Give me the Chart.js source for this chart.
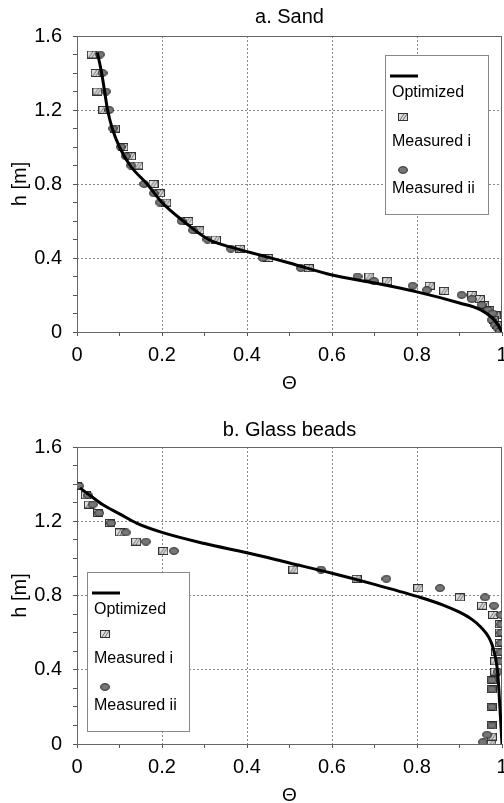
<!DOCTYPE html>
<html>
<head>
<meta charset="utf-8">
<script src="https://cdn.jsdelivr.net/npm/chart.js@4.4.0/dist/chart.umd.min.js"></script>
<style>
  html, body { margin: 0; padding: 0; background: #fff; overflow: hidden; }
  #top { position: absolute; left: 0; top: 0; width: 504px; height: 400px; }
  #bottom { position: absolute; left: 0; top: 400px; width: 504px; height: 420px; }
</style>
</head>
<body>
<div id="top"><canvas id="sand"></canvas></div>
<div id="bottom"><canvas id="beads"></canvas></div>
<script>
// --- a. Sand ---
const sandOptTheta = [0.048, 0.058, 0.065, 0.072, 0.083, 0.1, 0.125, 0.165, 0.2, 0.25, 0.31, 0.36, 0.44, 0.5, 0.6, 0.7, 0.8, 0.9, 0.95, 0.975, 0.99, 1.0];
const sandOptH     = [1.51, 1.4, 1.3, 1.2, 1.1, 1.0, 0.9, 0.8, 0.7, 0.6, 0.5, 0.46, 0.41, 0.373, 0.308, 0.265, 0.217, 0.157, 0.12, 0.08, 0.04, 0];

const sandITheta = [0.035, 0.044, 0.048, 0.062, 0.089, 0.109, 0.127, 0.144, 0.18, 0.195, 0.21, 0.262, 0.288, 0.327, 0.384, 0.45, 0.546, 0.688, 0.73, 0.83, 0.864, 0.93, 0.948, 0.958, 0.97, 0.985, 0.98, 0.988, 0.995];
const sandIH     = [1.5, 1.4, 1.3, 1.2, 1.1, 1.0, 0.95, 0.9, 0.8, 0.75, 0.7, 0.6, 0.55, 0.5, 0.45, 0.4, 0.345, 0.3, 0.275, 0.25, 0.222, 0.2, 0.178, 0.146, 0.119, 0.09, 0.065, 0.038, 0.01];

const sandIITheta = [0.054, 0.06, 0.068, 0.076, 0.085, 0.103, 0.115, 0.127, 0.158, 0.181, 0.195, 0.246, 0.273, 0.307, 0.362, 0.437, 0.527, 0.66, 0.699, 0.79, 0.823, 0.905, 0.929, 0.952, 0.967, 0.978, 0.976, 0.984, 0.99, 0.995];
const sandIIH     = [1.5, 1.4, 1.3, 1.2, 1.1, 1.0, 0.95, 0.9, 0.8, 0.75, 0.7, 0.6, 0.55, 0.5, 0.45, 0.4, 0.345, 0.3, 0.275, 0.25, 0.227, 0.2, 0.178, 0.146, 0.119, 0.1, 0.065, 0.038, 0.02, 0.005];

// --- b. Glass beads ---
const beadsOptTheta = [0.007, 0.03, 0.06, 0.1, 0.14, 0.2, 0.3, 0.4, 0.5, 0.6, 0.7, 0.8, 0.86, 0.9, 0.93, 0.95, 0.97, 0.98, 0.99, 0.995, 1.0];
const beadsOptH     = [1.38, 1.34, 1.29, 1.24, 1.19, 1.14, 1.08, 1.03, 0.975, 0.92, 0.86, 0.795, 0.75, 0.71, 0.67, 0.63, 0.57, 0.51, 0.38, 0.2, 0];

const beadsITheta = [0.0, 0.021, 0.028, 0.05, 0.078, 0.101, 0.139, 0.203, 0.509, 0.658, 0.803, 0.901, 0.953, 0.979, 0.995, 0.995, 0.995, 0.986, 0.984, 0.984, 0.976, 0.976, 0.976, 0.976, 0.976, 0.975];
const beadsIH     = [1.39, 1.34, 1.29, 1.245, 1.19, 1.14, 1.09, 1.04, 0.94, 0.89, 0.84, 0.79, 0.745, 0.695, 0.645, 0.6, 0.545, 0.495, 0.445, 0.39, 0.345, 0.295, 0.2, 0.1, 0.04, 0.0];

const beadsIITheta = [0.005, 0.026, 0.037, 0.052, 0.08, 0.115, 0.162, 0.228, 0.574, 0.728, 0.854, 0.96, 0.981, 0.998, 0.998, 0.998, 0.998, 0.998, 0.995, 0.99, 0.976, 0.976, 0.976, 0.976, 0.965, 0.955];
const beadsIIH     = [1.39, 1.34, 1.29, 1.245, 1.19, 1.14, 1.09, 1.04, 0.94, 0.89, 0.84, 0.79, 0.745, 0.695, 0.645, 0.6, 0.545, 0.495, 0.445, 0.39, 0.345, 0.295, 0.2, 0.1, 0.05, 0.01];

const xTickLabels = ['0', '0.2', '0.4', '0.6', '0.8', '1'];
const yTickLabels = ['0', '0.4', '0.8', '1.2', '1.6'];

Chart.defaults.font.family = "'Liberation Sans', Arial, sans-serif";
Chart.defaults.color = '#000';

function pts(xs, ys) {
  return xs.map((x, i) => ({ x: x, y: ys[i] }));
}

// hatched square and grey dot markers
function makeSquare() {
  const c = document.createElement('canvas');
  c.width = 10; c.height = 8;
  const g = c.getContext('2d');
  g.fillStyle = '#dedede';
  g.fillRect(0.5, 0.5, 9, 7);
  g.strokeStyle = '#6a6a6a';
  g.lineWidth = 1;
  g.beginPath();
  g.moveTo(2, 7); g.lineTo(6, 1);
  g.moveTo(5, 7); g.lineTo(9, 1);
  g.stroke();
  g.strokeStyle = '#333';
  g.strokeRect(0.5, 0.5, 9, 7);
  return c;
}
function makeDot() {
  const c = document.createElement('canvas');
  c.width = 10; c.height = 8;
  const g = c.getContext('2d');
  g.beginPath();
  g.ellipse(5, 4, 4.3, 3.3, 0, 0, Math.PI * 2);
  g.fillStyle = '#767676';
  g.fill();
  g.strokeStyle = '#222';
  g.lineWidth = 1;
  g.stroke();
  return c;
}
const squareImg = makeSquare();
const dotImg = makeDot();

// frame around the plot area, drawn under the data
const framePlugin = {
  id: 'frame',
  beforeDatasetsDraw(chart) {
    const { ctx, chartArea: a } = chart;
    ctx.save();
    ctx.strokeStyle = '#666';
    ctx.lineWidth = 1;
    ctx.strokeRect(Math.round(a.left) + 0.5, Math.round(a.top) + 0.5,
      Math.round(a.right - a.left) - 1, Math.round(a.bottom - a.top));
    ctx.restore();
  }
};

// legend box with marker above each label
const boxLegendPlugin = {
  id: 'boxLegend',
  afterDraw(chart, args, opts) {
    const { ctx } = chart;
    const L = opts.left, T = opts.top, W = opts.width, H = opts.height;
    const ds = chart.data.datasets;
    ctx.save();
    ctx.fillStyle = '#fff';
    ctx.fillRect(L, T, W, H);
    ctx.strokeStyle = '#888';
    ctx.lineWidth = 1;
    ctx.strokeRect(L + 0.5, T + 0.5, W, H);

    ctx.strokeStyle = ds[0].borderColor;
    ctx.lineWidth = 3;
    ctx.beginPath();
    ctx.moveTo(L + 5, T + 21);
    ctx.lineTo(L + 33, T + 21);
    ctx.stroke();

    ctx.drawImage(ds[1].pointStyle, L + 13, T + 58);
    ctx.drawImage(ds[2].pointStyle, L + 13, T + 111);

    ctx.fillStyle = '#000';
    ctx.font = "16px 'Liberation Sans', Arial, sans-serif";
    ctx.textBaseline = 'middle';
    ctx.textAlign = 'left';
    ctx.fillText(ds[0].label, L + 7, T + 38);
    ctx.fillText(ds[1].label, L + 7, T + 87);
    ctx.fillText(ds[2].label, L + 7, T + 134);
    ctx.restore();
  }
};

function gridColor(step, maxTenths) {
  return ctx => {
    if (ctx.type !== 'tick') return 'rgba(0,0,0,0)';
    const t = Math.round(ctx.tick.value * 10);
    if (t === 0 || t === maxTenths || t % step !== 0) return 'rgba(0,0,0,0)';
    return '#8a8a8a';
  };
}

function makeChart(id, cfg) {
  return new Chart(document.getElementById(id), {
    type: 'scatter',
    data: {
      datasets: [
        {
          label: 'Optimized',
          data: pts(cfg.opt[0], cfg.opt[1]),
          showLine: true,
          borderColor: '#000',
          borderWidth: 3,
          pointRadius: 0,
          cubicInterpolationMode: 'monotone',
          order: 0
        },
        {
          label: 'Measured i',
          data: pts(cfg.m1[0], cfg.m1[1]),
          pointStyle: squareImg,
          pointRadius: 5,
          order: 2
        },
        {
          label: 'Measured ii',
          data: pts(cfg.m2[0], cfg.m2[1]),
          pointStyle: dotImg,
          pointRadius: 5,
          order: 1
        }
      ]
    },
    options: {
      responsive: true,
      maintainAspectRatio: false,
      animation: false,
      layout: { autoPadding: false, padding: { left: 0, right: 2, top: 0, bottom: 0 } },
      plugins: {
        legend: { display: false },
        tooltip: { enabled: false },
        title: {
          display: true,
          text: cfg.title,
          fullSize: false,
          font: { size: 20, weight: 'normal', lineHeight: 1.2 },
          padding: cfg.titlePad
        },
        boxLegend: cfg.legend
      },
      scales: {
        x: {
          type: 'linear',
          min: 0,
          max: 1,
          afterFit: s => { s.height = cfg.xHeight; s.paddingLeft = 0; s.paddingRight = 0; },
          ticks: {
            stepSize: 0.1,
            autoSkip: false,
            maxRotation: 0,
            padding: 7,
            font: { size: 20 },
            callback: v => {
              const t = Math.round(v * 10);
              return t % 2 === 0 ? xTickLabels[t / 2] : '';
            }
          },
          grid: { color: gridColor(2, 10), tickColor: '#555', tickLength: 4, lineWidth: 1 },
          border: { display: false, dash: [2, 2] },
          title: { display: true, text: 'Θ', font: { size: 19 }, padding: { top: 0, bottom: cfg.xTitlePad } }
        },
        y: {
          type: 'linear',
          min: 0,
          max: 1.6,
          afterFit: s => { s.width = 77; },
          ticks: {
            stepSize: 0.1,
            autoSkip: false,
            padding: 11,
            font: { size: 20 },
            callback: v => {
              const t = Math.round(v * 10);
              return t % 4 === 0 ? yTickLabels[t / 4] : '';
            }
          },
          grid: { color: gridColor(4, 16), tickColor: '#555', tickLength: 4, lineWidth: 1 },
          border: { display: false, dash: [2, 2] },
          title: { display: true, text: 'h [m]', font: { size: 20 }, padding: { top: 8, bottom: 0 } }
        }
      }
    },
    plugins: [framePlugin, boxLegendPlugin]
  });
}

makeChart('sand', {
  title: 'a. Sand',
  titlePad: { top: 5, bottom: 7 },
  xHeight: 68,
  xTitlePad: 5,
  opt: [sandOptTheta, sandOptH],
  m1: [sandITheta, sandIH],
  m2: [sandIITheta, sandIIH],
  legend: { left: 385, top: 55, width: 103, height: 159 }
});

makeChart('beads', {
  title: 'b. Glass beads',
  titlePad: { top: 18, bottom: 5 },
  xHeight: 76,
  xTitlePad: 13,
  opt: [beadsOptTheta, beadsOptH],
  m1: [beadsITheta, beadsIH],
  m2: [beadsIITheta, beadsIIH],
  legend: { left: 87, top: 172, width: 102, height: 159 }
});
</script>
</body>
</html>
